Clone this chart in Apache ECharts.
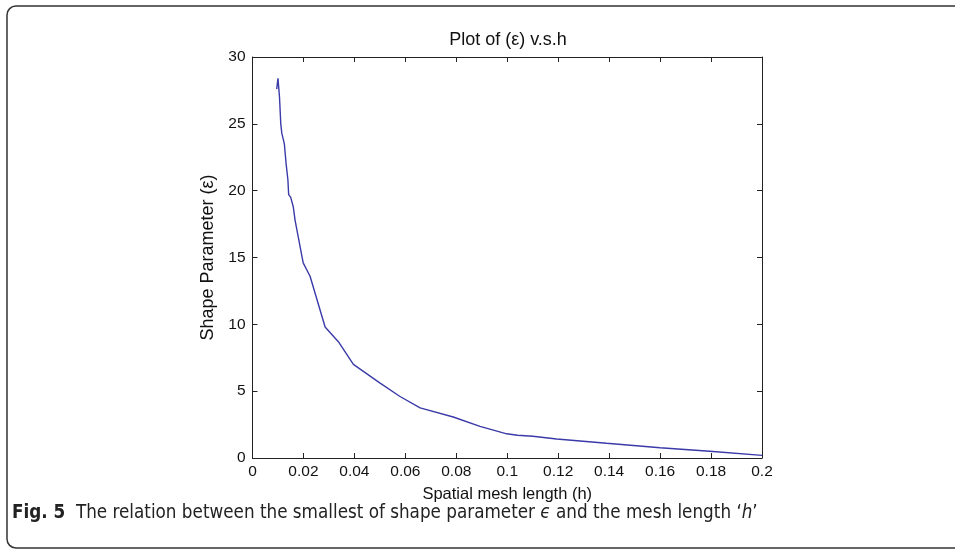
<!DOCTYPE html>
<html>
<head>
<meta charset="utf-8">
<script src="https://cdn.jsdelivr.net/npm/echarts@6/dist/echarts.min.js"></script>
<style>
html,body{margin:0;padding:0;background:#fff;}
#chart{width:955px;height:551px;}
</style>
</head>
<body>
<div id="chart"></div>
<script>
// mesh length h (x values)
var hValues = [0.0095, 0.0100, 0.0106, 0.0111, 0.0115, 0.0121, 0.0125, 0.0132, 0.0139, 0.0142,
  0.0150, 0.0160, 0.0167, 0.0199, 0.0226, 0.0285, 0.0337, 0.0396, 0.0501, 0.0579,
  0.0658, 0.0788, 0.0893, 0.0998, 0.1040, 0.1100, 0.1194, 0.1390, 0.1600, 0.1795, 0.2000];
// smallest shape parameter epsilon (y values)
var epsValues = [27.6, 28.4, 27.0, 25.0, 24.3, 24.4, 23.5, 22.0, 20.8, 19.7,
  19.5, 18.8, 17.8, 14.6, 13.6, 9.8, 8.7, 7.0, 5.6, 4.6,
  3.75, 3.07, 2.37, 1.81, 1.70, 1.63, 1.42, 1.10, 0.77, 0.50, 0.20];
var xTickLabels = ['0', '0.02', '0.04', '0.06', '0.08', '0.1', '0.12', '0.14', '0.16', '0.18', '0.2'];
var yTickLabels = ['0', '5', '10', '15', '20', '25', '30'];

var seriesData = hValues.map(function (h, i) { return [h, epsValues[i]]; });

var font = 'Liberation Sans, Arial, sans-serif';
var capFont = 'Liberation Sans Narrow, DejaVu Sans Condensed, Liberation Sans, sans-serif';
var axisLine = { show: true, onZero: false, lineStyle: { color: '#222', width: 1 } };
var tick = { show: true, inside: true, length: 5, lineStyle: { color: '#222', width: 1 } };

var chart = echarts.init(document.getElementById('chart'), null, { renderer: 'canvas' });
chart.setOption({
  backgroundColor: '#fff',
  animation: false,
  title: {
    text: 'Plot of (ε) v.s.h',
    left: 503, top: 26, textAlign: 'center',
    textStyle: { fontFamily: font, fontSize: 18, fontWeight: 'normal', color: '#111' }
  },
  grid: { left: 252.5, right: 193, top: 57, bottom: 93 },
  xAxis: [{
    type: 'value', min: 0, max: 0.2, interval: 0.02, position: 'bottom',
    axisLine: axisLine, axisTick: tick, splitLine: { show: false },
    axisLabel: {
      margin: 6, fontFamily: font, fontSize: 15.5, color: '#111',
      formatter: function (v) { return xTickLabels[Math.round(v / 0.02)]; }
    },
    name: 'Spatial mesh length (h)', nameLocation: 'middle', nameGap: 28,
    nameTextStyle: { fontFamily: font, fontSize: 16.5, color: '#111' }
  }, {
    type: 'value', min: 0, max: 0.2, interval: 0.02, position: 'top',
    axisLine: axisLine, axisTick: tick, axisLabel: { show: false }, splitLine: { show: false }
  }],
  yAxis: [{
    type: 'value', min: 0, max: 30, interval: 5, position: 'left',
    axisLine: axisLine, axisTick: tick, splitLine: { show: false },
    axisLabel: {
      margin: 7, fontFamily: font, fontSize: 15.5, color: '#111',
      formatter: function (v) { return yTickLabels[Math.round(v / 5)]; }
    },
    name: 'Shape Parameter (ε)', nameLocation: 'middle', nameGap: 29, nameRotate: 90,
    nameTextStyle: { fontFamily: font, fontSize: 18, color: '#111' }
  }, {
    type: 'value', min: 0, max: 30, interval: 5, position: 'right',
    axisLine: axisLine, axisTick: tick, axisLabel: { show: false }, splitLine: { show: false }
  }],
  series: [{
    type: 'line', data: seriesData, showSymbol: false, symbol: 'none',
    xAxisIndex: 0, yAxisIndex: 0,
    lineStyle: { color: '#3a3aa8', width: 1.4 }
  }],
  graphic: [{
    type: 'rect', shape: { x: 7, y: 6, width: 960, height: 542, r: 9 },
    style: { fill: 'none', stroke: '#333', lineWidth: 1.5 }, silent: true
  }, {
    type: 'text', left: 12, top: 504,
    style: {
      text: '{b|Fig. 5}  The relation between the smallest of shape parameter {i|ϵ} and the mesh length ‘{i|h}’',
      fontFamily: capFont, fontSize: 18.7, fill: '#222',
      rich: {
        b: { fontWeight: 'bold', fontFamily: capFont, fontSize: 18.7, fill: '#222' },
        i: { fontStyle: 'italic', fontFamily: capFont, fontSize: 18.7, fill: '#222' }
      }
    }
  }]
});
</script>
</body>
</html>
